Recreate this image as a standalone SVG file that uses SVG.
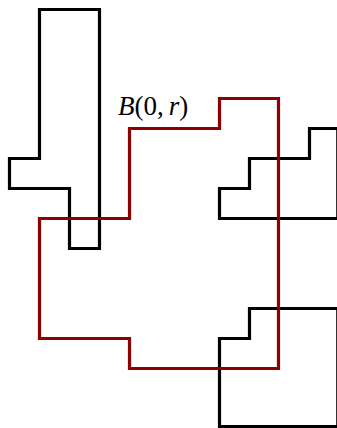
<svg xmlns="http://www.w3.org/2000/svg" width="337" height="428" viewBox="0 0 337 428">
<style>
.blk{fill:none;stroke:#000;stroke-width:3.2;stroke-linejoin:miter}
.red{fill:none;stroke:#8b0000;stroke-width:3.2;stroke-linejoin:miter}
.lbl{font-family:"Liberation Serif","DejaVu Serif",serif;font-size:27px;fill:#000}
</style>
<rect width="337" height="428" fill="#fff"/>
<g id="tall-block">
<path class="blk" d="M39.5,9.5 H99.5 V248.5 H69.5 V188.5 H9.5 V158.5 H39.5 Z"/>
</g>
<g id="upper-right-block">
<path class="blk" d="M219.5,218.5 V188.5 H249.5 V158.5 H309.5 V128.5 H337.8 V218.5 Z"/>
</g>
<g id="lower-right-block">
<path class="blk" d="M219.5,426.5 V338.5 H249.5 V308.5 H337.8 V426.5 Z"/>
</g>
<g id="ball">
<path class="red" d="M39.5,218.5 H129.5 V128.5 H219.5 V98.5 H278.5 V368.5 H129.5 V338.5 H39.5 Z"/>
<text class="lbl" x="118" y="115"><tspan font-style="italic">B</tspan>(0,<tspan dx="5" font-style="italic">r</tspan>)</text>
</g>
</svg>
